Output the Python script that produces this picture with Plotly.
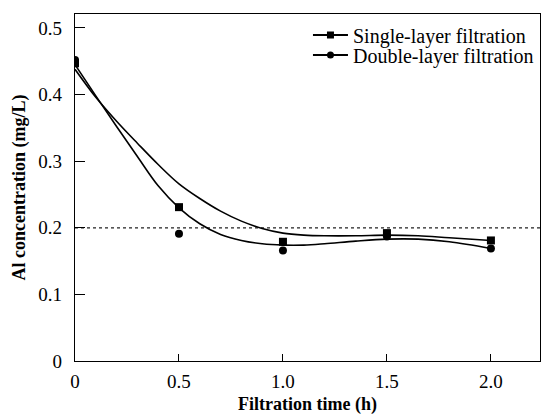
import plotly.graph_objects as go

# Measured points
time_h = [0, 0.5, 1.0, 1.5, 2.0]
single_layer = [0.447, 0.231, 0.179, 0.192, 0.181]
double_layer = [0.452, 0.191, 0.166, 0.187, 0.169]

# Fitted curves
fit_x = [0, 0.1, 0.2, 0.3, 0.4, 0.5, 0.6, 0.7, 0.8, 0.9, 1.0, 1.1, 1.2, 1.35, 1.5, 1.65, 1.8, 2.0]
single_fit_y = [0.438, 0.396, 0.360, 0.327, 0.295, 0.266, 0.244, 0.225, 0.210, 0.199, 0.192,
                0.189, 0.188, 0.188, 0.189, 0.188, 0.185, 0.181]
double_fit_y = [0.445, 0.398, 0.352, 0.307, 0.263, 0.230, 0.206, 0.190, 0.181, 0.176, 0.174,
                0.174, 0.176, 0.180, 0.183, 0.183, 0.179, 0.169]

threshold = 0.2

x_tickvals = [0, 0.5, 1.0, 1.5, 2.0]
x_ticktext = ["0", "0.5", "1.0", "1.5", "2.0"]
y_tickvals = [0, 0.1, 0.2, 0.3, 0.4, 0.5]
y_ticktext = ["0", "0.1", "0.2", "0.3", "0.4", "0.5"]

FONT = "Liberation Serif"
BLACK = "#000000"

fig = go.Figure()

fig.add_hline(y=threshold, line=dict(color="#222222", width=1.2, dash="dot"), layer="below")

fig.add_trace(go.Scatter(x=fit_x, y=single_fit_y, mode="lines",
                         line=dict(color=BLACK, width=1.6, shape="spline", smoothing=1.0),
                         showlegend=False, hoverinfo="skip"))
fig.add_trace(go.Scatter(x=fit_x, y=double_fit_y, mode="lines",
                         line=dict(color=BLACK, width=1.6, shape="spline", smoothing=1.0),
                         showlegend=False, hoverinfo="skip"))

fig.add_trace(go.Scatter(x=time_h, y=single_layer, mode="markers",
                         marker=dict(symbol="square", size=8, color=BLACK),
                         showlegend=False))
fig.add_trace(go.Scatter(x=time_h, y=double_layer, mode="markers",
                         marker=dict(symbol="circle", size=8, color=BLACK),
                         showlegend=False))

# Legend entries (two single-item legends so the rows sit close together)
fig.add_trace(go.Scatter(x=[None], y=[None], mode="lines+markers", name="Single-layer filtration",
                         line=dict(color=BLACK, width=2),
                         marker=dict(symbol="square", size=7, color=BLACK), legend="legend"))
fig.add_trace(go.Scatter(x=[None], y=[None], mode="lines+markers", name="Double-layer filtration",
                         line=dict(color=BLACK, width=2),
                         marker=dict(symbol="circle", size=7, color=BLACK), legend="legend2"))

leg_common = dict(xanchor="left", yanchor="middle", bgcolor="rgba(0,0,0,0)",
                  font=dict(family=FONT, size=20, color=BLACK), itemwidth=35)

fig.update_layout(
    width=541, height=414,
    margin=dict(l=75, r=1, t=14, b=53),
    paper_bgcolor="white", plot_bgcolor="white",
    font=dict(family=FONT, size=19, color=BLACK),
    legend=dict(x=0.501, y=0.9395, **leg_common),
    legend2=dict(x=0.501, y=0.882, **leg_common),
    showlegend=True,
    annotations=[
        dict(text="<b>Filtration time (h)</b>", xref="paper", yref="paper",
             x=0.5, y=-43 / 347, xanchor="center", yanchor="middle", showarrow=False,
             font=dict(family=FONT, size=18, color=BLACK)),
        dict(text="<b>Al concentration (mg/L)</b>", xref="paper", yref="paper",
             x=-56 / 465, y=0.5, xanchor="center", yanchor="middle", showarrow=False,
             textangle=-90, font=dict(family=FONT, size=18, color=BLACK)),
    ],
)

fig.update_xaxes(
    range=[0, 2.236], tickvals=x_tickvals, ticktext=x_ticktext,
    ticks="inside", ticklen=7, tickwidth=1, tickcolor=BLACK,
    showline=True, linecolor=BLACK, linewidth=1.2, mirror=True,
    showgrid=False, zeroline=False, automargin=False, ticklabelstandoff=3,
    tickfont=dict(family=FONT, size=19),
)
fig.update_yaxes(
    range=[0, 0.521], tickvals=y_tickvals, ticktext=y_ticktext,
    ticks="inside", ticklen=10, tickwidth=1, tickcolor=BLACK,
    showline=True, linecolor=BLACK, linewidth=1.2, mirror=True,
    showgrid=False, zeroline=False, automargin=False, ticklabelstandoff=8,
    tickfont=dict(family=FONT, size=19),
)

fig.write_html("out.html",
               config={"displayModeBar": False},
               post_script="document.body.style.margin='0';document.body.style.overflow='hidden';")
